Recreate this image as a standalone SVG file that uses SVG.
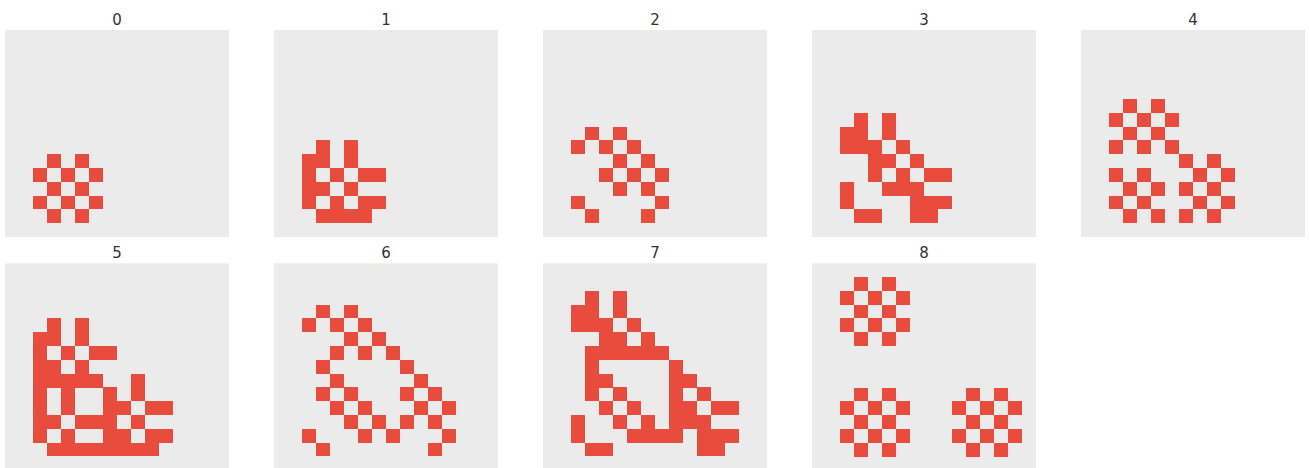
<svg xmlns="http://www.w3.org/2000/svg" width="1309" height="468" viewBox="0 0 1309 468">
<style>
.bg{fill:#ebebeb}
.t{font-family:"DejaVu Sans",sans-serif;font-size:15px;fill:#333;text-anchor:middle}
rect.c{fill:#e74c3c;height:13.8px}
g.cells{shape-rendering:crispEdges}
</style>
<rect width="1309" height="468" fill="#ffffff"/>
<g id="panel0" transform="translate(5,30)">
<rect class="bg" width="224" height="207"/>
<g class="cells">
<rect class="c" x="42" y="124.2" width="14"/><rect class="c" x="70" y="124.2" width="14"/>
<rect class="c" x="28" y="138" width="14"/><rect class="c" x="56" y="138" width="14"/><rect class="c" x="84" y="138" width="14"/>
<rect class="c" x="42" y="151.8" width="14"/><rect class="c" x="70" y="151.8" width="14"/>
<rect class="c" x="28" y="165.6" width="14"/><rect class="c" x="56" y="165.6" width="14"/><rect class="c" x="84" y="165.6" width="14"/>
<rect class="c" x="42" y="179.4" width="14"/><rect class="c" x="70" y="179.4" width="14"/>
</g>
</g>
<text class="t" x="117" y="24.5">0</text>
<g id="panel1" transform="translate(274,30)">
<rect class="bg" width="224" height="207"/>
<g class="cells">
<rect class="c" x="42" y="110.4" width="14"/><rect class="c" x="70" y="110.4" width="14"/>
<rect class="c" x="28" y="124.2" width="28"/><rect class="c" x="70" y="124.2" width="14"/>
<rect class="c" x="28" y="138" width="14"/><rect class="c" x="56" y="138" width="14"/><rect class="c" x="84" y="138" width="28"/>
<rect class="c" x="28" y="151.8" width="28"/><rect class="c" x="70" y="151.8" width="14"/>
<rect class="c" x="28" y="165.6" width="14"/><rect class="c" x="56" y="165.6" width="14"/><rect class="c" x="84" y="165.6" width="28"/>
<rect class="c" x="42" y="179.4" width="56"/>
</g>
</g>
<text class="t" x="386" y="24.5">1</text>
<g id="panel2" transform="translate(543,30)">
<rect class="bg" width="224" height="207"/>
<g class="cells">
<rect class="c" x="42" y="96.6" width="14"/><rect class="c" x="70" y="96.6" width="14"/>
<rect class="c" x="28" y="110.4" width="14"/><rect class="c" x="56" y="110.4" width="14"/><rect class="c" x="84" y="110.4" width="14"/>
<rect class="c" x="70" y="124.2" width="14"/><rect class="c" x="98" y="124.2" width="14"/>
<rect class="c" x="56" y="138" width="14"/><rect class="c" x="84" y="138" width="14"/><rect class="c" x="112" y="138" width="14"/>
<rect class="c" x="70" y="151.8" width="14"/><rect class="c" x="98" y="151.8" width="14"/>
<rect class="c" x="28" y="165.6" width="14"/><rect class="c" x="112" y="165.6" width="14"/>
<rect class="c" x="42" y="179.4" width="14"/><rect class="c" x="98" y="179.4" width="14"/>
</g>
</g>
<text class="t" x="655" y="24.5">2</text>
<g id="panel3" transform="translate(812,30)">
<rect class="bg" width="224" height="207"/>
<g class="cells">
<rect class="c" x="42" y="82.8" width="14"/><rect class="c" x="70" y="82.8" width="14"/>
<rect class="c" x="28" y="96.6" width="28"/><rect class="c" x="70" y="96.6" width="14"/>
<rect class="c" x="28" y="110.4" width="42"/><rect class="c" x="84" y="110.4" width="14"/>
<rect class="c" x="56" y="124.2" width="28"/><rect class="c" x="98" y="124.2" width="14"/>
<rect class="c" x="56" y="138" width="14"/><rect class="c" x="84" y="138" width="14"/><rect class="c" x="112" y="138" width="28"/>
<rect class="c" x="28" y="151.8" width="14"/><rect class="c" x="70" y="151.8" width="42"/>
<rect class="c" x="28" y="165.6" width="14"/><rect class="c" x="98" y="165.6" width="42"/>
<rect class="c" x="42" y="179.4" width="28"/><rect class="c" x="98" y="179.4" width="28"/>
</g>
</g>
<text class="t" x="924" y="24.5">3</text>
<g id="panel4" transform="translate(1081,30)">
<rect class="bg" width="224" height="207"/>
<g class="cells">
<rect class="c" x="42" y="69" width="14"/><rect class="c" x="70" y="69" width="14"/>
<rect class="c" x="28" y="82.8" width="14"/><rect class="c" x="56" y="82.8" width="14"/><rect class="c" x="84" y="82.8" width="14"/>
<rect class="c" x="42" y="96.6" width="14"/><rect class="c" x="70" y="96.6" width="14"/>
<rect class="c" x="28" y="110.4" width="14"/><rect class="c" x="56" y="110.4" width="14"/><rect class="c" x="84" y="110.4" width="14"/>
<rect class="c" x="98" y="124.2" width="14"/><rect class="c" x="126" y="124.2" width="14"/>
<rect class="c" x="28" y="138" width="14"/><rect class="c" x="56" y="138" width="14"/><rect class="c" x="112" y="138" width="14"/><rect class="c" x="140" y="138" width="14"/>
<rect class="c" x="42" y="151.8" width="14"/><rect class="c" x="70" y="151.8" width="14"/><rect class="c" x="98" y="151.8" width="14"/><rect class="c" x="126" y="151.8" width="14"/>
<rect class="c" x="28" y="165.6" width="14"/><rect class="c" x="56" y="165.6" width="14"/><rect class="c" x="112" y="165.6" width="14"/><rect class="c" x="140" y="165.6" width="14"/>
<rect class="c" x="42" y="179.4" width="14"/><rect class="c" x="70" y="179.4" width="14"/><rect class="c" x="98" y="179.4" width="14"/><rect class="c" x="126" y="179.4" width="14"/>
</g>
</g>
<text class="t" x="1193" y="24.5">4</text>
<g id="panel5" transform="translate(5,263.3)">
<rect class="bg" width="224" height="207"/>
<g class="cells">
<rect class="c" x="42" y="55.2" width="14"/><rect class="c" x="70" y="55.2" width="14"/>
<rect class="c" x="28" y="69" width="28"/><rect class="c" x="70" y="69" width="14"/>
<rect class="c" x="28" y="82.8" width="14"/><rect class="c" x="56" y="82.8" width="14"/><rect class="c" x="84" y="82.8" width="28"/>
<rect class="c" x="28" y="96.6" width="28"/><rect class="c" x="70" y="96.6" width="14"/>
<rect class="c" x="28" y="110.4" width="70"/><rect class="c" x="126" y="110.4" width="14"/>
<rect class="c" x="28" y="124.2" width="14"/><rect class="c" x="56" y="124.2" width="14"/><rect class="c" x="98" y="124.2" width="14"/><rect class="c" x="126" y="124.2" width="14"/>
<rect class="c" x="28" y="138" width="14"/><rect class="c" x="56" y="138" width="14"/><rect class="c" x="98" y="138" width="28"/><rect class="c" x="140" y="138" width="28"/>
<rect class="c" x="28" y="151.8" width="28"/><rect class="c" x="70" y="151.8" width="42"/><rect class="c" x="126" y="151.8" width="14"/>
<rect class="c" x="28" y="165.6" width="14"/><rect class="c" x="56" y="165.6" width="14"/><rect class="c" x="98" y="165.6" width="28"/><rect class="c" x="140" y="165.6" width="28"/>
<rect class="c" x="42" y="179.4" width="112"/>
</g>
</g>
<text class="t" x="117" y="257.7">5</text>
<g id="panel6" transform="translate(274,263.3)">
<rect class="bg" width="224" height="207"/>
<g class="cells">
<rect class="c" x="42" y="41.4" width="14"/><rect class="c" x="70" y="41.4" width="14"/>
<rect class="c" x="28" y="55.2" width="14"/><rect class="c" x="56" y="55.2" width="14"/><rect class="c" x="84" y="55.2" width="14"/>
<rect class="c" x="70" y="69" width="14"/><rect class="c" x="98" y="69" width="14"/>
<rect class="c" x="56" y="82.8" width="14"/><rect class="c" x="84" y="82.8" width="14"/><rect class="c" x="112" y="82.8" width="14"/>
<rect class="c" x="42" y="96.6" width="14"/><rect class="c" x="126" y="96.6" width="14"/>
<rect class="c" x="56" y="110.4" width="14"/><rect class="c" x="140" y="110.4" width="14"/>
<rect class="c" x="42" y="124.2" width="14"/><rect class="c" x="70" y="124.2" width="14"/><rect class="c" x="126" y="124.2" width="14"/><rect class="c" x="154" y="124.2" width="14"/>
<rect class="c" x="56" y="138" width="14"/><rect class="c" x="84" y="138" width="14"/><rect class="c" x="140" y="138" width="14"/><rect class="c" x="168" y="138" width="14"/>
<rect class="c" x="70" y="151.8" width="14"/><rect class="c" x="98" y="151.8" width="14"/><rect class="c" x="126" y="151.8" width="14"/><rect class="c" x="154" y="151.8" width="14"/>
<rect class="c" x="28" y="165.6" width="14"/><rect class="c" x="84" y="165.6" width="14"/><rect class="c" x="112" y="165.6" width="14"/><rect class="c" x="168" y="165.6" width="14"/>
<rect class="c" x="42" y="179.4" width="14"/><rect class="c" x="154" y="179.4" width="14"/>
</g>
</g>
<text class="t" x="386" y="257.7">6</text>
<g id="panel7" transform="translate(543,263.3)">
<rect class="bg" width="224" height="207"/>
<g class="cells">
<rect class="c" x="42" y="27.6" width="14"/><rect class="c" x="70" y="27.6" width="14"/>
<rect class="c" x="28" y="41.4" width="28"/><rect class="c" x="70" y="41.4" width="14"/>
<rect class="c" x="28" y="55.2" width="42"/><rect class="c" x="84" y="55.2" width="14"/>
<rect class="c" x="56" y="69" width="28"/><rect class="c" x="98" y="69" width="14"/>
<rect class="c" x="42" y="82.8" width="84"/>
<rect class="c" x="42" y="96.6" width="14"/><rect class="c" x="126" y="96.6" width="14"/>
<rect class="c" x="42" y="110.4" width="28"/><rect class="c" x="126" y="110.4" width="28"/>
<rect class="c" x="42" y="124.2" width="14"/><rect class="c" x="70" y="124.2" width="14"/><rect class="c" x="126" y="124.2" width="14"/><rect class="c" x="154" y="124.2" width="14"/>
<rect class="c" x="56" y="138" width="14"/><rect class="c" x="84" y="138" width="14"/><rect class="c" x="126" y="138" width="28"/><rect class="c" x="168" y="138" width="28"/>
<rect class="c" x="28" y="151.8" width="14"/><rect class="c" x="70" y="151.8" width="14"/><rect class="c" x="98" y="151.8" width="14"/><rect class="c" x="126" y="151.8" width="42"/>
<rect class="c" x="28" y="165.6" width="14"/><rect class="c" x="84" y="165.6" width="56"/><rect class="c" x="154" y="165.6" width="42"/>
<rect class="c" x="42" y="179.4" width="28"/><rect class="c" x="154" y="179.4" width="28"/>
</g>
</g>
<text class="t" x="655" y="257.7">7</text>
<g id="panel8" transform="translate(812,263.3)">
<rect class="bg" width="224" height="207"/>
<defs>
<g id="flower">
<rect class="c" x="14" y="0" width="14"/><rect class="c" x="42" y="0" width="14"/>
<rect class="c" x="0" y="13.8" width="14"/><rect class="c" x="28" y="13.8" width="14"/><rect class="c" x="56" y="13.8" width="14"/>
<rect class="c" x="14" y="27.6" width="14"/><rect class="c" x="42" y="27.6" width="14"/>
<rect class="c" x="0" y="41.4" width="14"/><rect class="c" x="28" y="41.4" width="14"/><rect class="c" x="56" y="41.4" width="14"/>
<rect class="c" x="14" y="55.2" width="14"/><rect class="c" x="42" y="55.2" width="14"/>
</g>
</defs>
<g class="cells">
<use href="#flower" x="28" y="13.8"/>
<use href="#flower" x="28" y="124.2"/>
<use href="#flower" x="140" y="124.2"/>
</g>
</g>
<text class="t" x="924" y="257.7">8</text>
</svg>
